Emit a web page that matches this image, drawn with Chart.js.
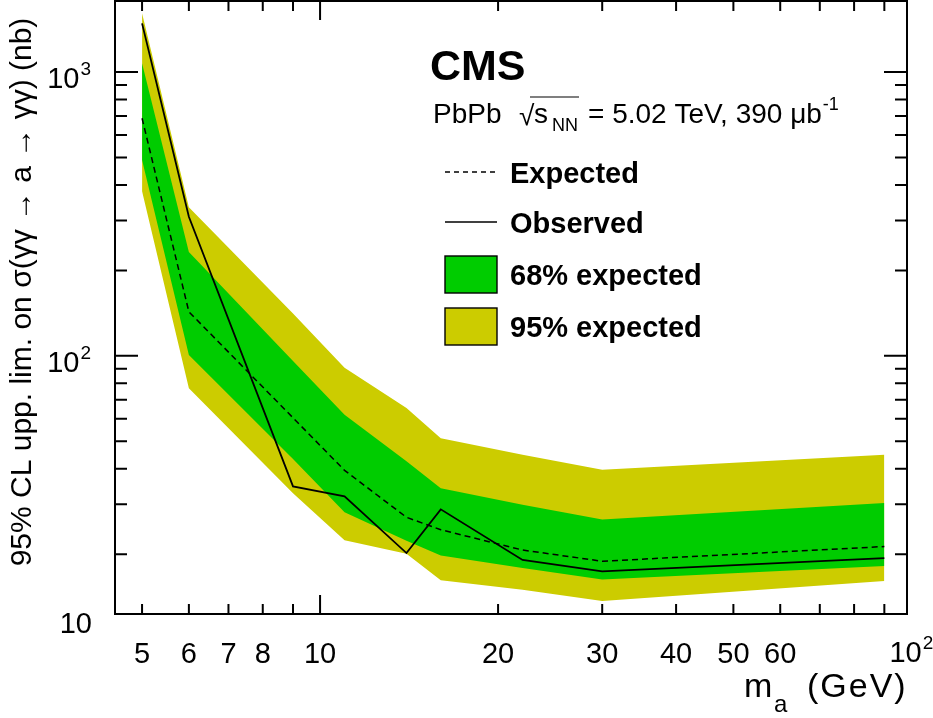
<!DOCTYPE html>
<html>
<head>
<meta charset="utf-8">
<script src="https://cdn.jsdelivr.net/npm/chart.js@4.4.1/dist/chart.umd.min.js"></script>
<style>
  html, body { margin: 0; padding: 0; background: #fff; }
</style>
</head>
<body>
<canvas id="limitChart" width="933" height="718"></canvas>
<script>
// mass points (GeV) and limits (nb)
const masses = [5, 6, 9, 11, 14, 16, 22, 30, 90];
const observed = [1484, 309, 34.7, 32.0, 20.2, 28.8, 19.1, 17.4, 19.4];
const expected = [687, 143, 60.5, 39.5, 27.0, 24.4, 20.7, 18.9, 21.3];
const band68Up = [1073, 232, 96, 62.0, 42.5, 34.2, 29.9, 26.5, 30.3];
const band68Down = [490, 100.8, 43.3, 28.1, 22.3, 19.8, 17.9, 16.3, 18.2];
const band95Up = [1611, 334, 141, 90.8, 65.5, 51.3, 44.8, 39.7, 44.8];
const band95Down = [380, 76.9, 32.8, 22.4, 20.1, 16.2, 15.0, 13.7, 16.1];

// axis ticks
const xTicks = [5, 6, 7, 8, 9, 10, 20, 30, 40, 50, 60, 70, 80, 90];
const xMajor = [10];
const xTickLabels = { 5: '5', 6: '6', 7: '7', 8: '8', 10: '10', 20: '20', 30: '30', 40: '40', 50: '50', 60: '60' };
const yTicks = [20, 30, 40, 50, 60, 70, 80, 90, 100, 200, 300, 400, 500, 600, 700, 800, 900, 1000];
const yMajor = [100, 1000];
const yPowers = [[100, '2'], [1000, '3']];

const xMin = 4.5, xMax = 98.3;
const yMin = 12.32, yMax = 1779;

const FONT = "'Liberation Sans', Arial, Helvetica, sans-serif";
const pts = (ys) => masses.map((m, i) => ({ x: m, y: ys[i] }));

// "10" with a raised exponent, right edge or centre anchored
function drawPower(c, exp, x, base, align) {
  c.font = '29px ' + FONT;
  const w1 = c.measureText('10').width;
  c.font = '19px ' + FONT;
  const w2 = c.measureText(exp).width;
  const left = align === 'right' ? x - w1 - w2 - 1 : x - (w1 + w2 + 1) / 2;
  c.font = '29px ' + FONT;
  c.fillText('10', left, base);
  c.font = '19px ' + FONT;
  c.fillText(exp, left + w1 + 1, base - 13);
}

const rootStyle = {
  id: 'rootStyle',
  afterDraw(chart) {
    const c = chart.ctx;
    const a = chart.chartArea;
    const xs = chart.scales.x, ys = chart.scales.y;
    c.save();
    c.strokeStyle = '#000';
    c.lineWidth = 2;
    c.strokeRect(a.left, a.top, a.right - a.left, a.bottom - a.top);

    // inward ticks on all four sides
    c.beginPath();
    xTicks.forEach(v => {
      const px = xs.getPixelForValue(v);
      const len = xMajor.includes(v) ? 19 : 10;
      c.moveTo(px, a.bottom); c.lineTo(px, a.bottom - len);
      c.moveTo(px, a.top); c.lineTo(px, a.top + len);
    });
    yTicks.forEach(v => {
      const py = ys.getPixelForValue(v);
      const len = yMajor.includes(v) ? 23 : 12;
      c.moveTo(a.left, py); c.lineTo(a.left + len, py);
      c.moveTo(a.right, py); c.lineTo(a.right - len, py);
    });
    c.stroke();

    c.fillStyle = '#000';
    c.textAlign = 'left';
    c.textBaseline = 'alphabetic';

    // y tick labels
    yPowers.forEach(([v, e]) => drawPower(c, e, 91, ys.getPixelForValue(v) + 16, 'right'));
    c.font = '29px ' + FONT;
    c.textAlign = 'right';
    c.fillText('10', 92, a.bottom + 19);
    c.textAlign = 'left';
    // x label at 10^2
    drawPower(c, '2', xs.getPixelForValue(100), 662, 'center');

    // x title with subscript
    c.font = '34px ' + FONT;
    c.fillText('m', 744, 697);
    c.font = '24px ' + FONT;
    c.fillText('a', 774, 712);
    c.font = '34px ' + FONT;
    c.letterSpacing = '2px';
    c.fillText('(GeV)', 807, 697);
    c.letterSpacing = '0px';

    // y title
    c.save();
    c.translate(31, 292);
    c.rotate(-Math.PI / 2);
    c.font = '30px ' + FONT;
    c.textAlign = 'center';
    c.fillText('95% CL upp. lim. on σ(γγ → a → γγ) (nb)', 0, 0);
    c.restore();

    // CMS label
    c.font = 'bold 43px ' + FONT;
    c.fillText('CMS', 430, 80);

    // collision system line
    c.font = '28px ' + FONT;
    c.fillText('PbPb', 433, 123);
    c.fillText('√', 519, 125);
    c.fillText('s', 534, 123);
    c.font = '18px ' + FONT;
    c.fillText('NN', 552, 131);
    c.beginPath();
    c.lineWidth = 1.2;
    c.moveTo(530, 97); c.lineTo(579, 97);
    c.stroke();
    c.font = '28px ' + FONT;
    const main = '= 5.02 TeV, 390 μb';
    c.fillText(main, 588, 123);
    const mw = c.measureText(main).width;
    c.font = '18px ' + FONT;
    c.fillText('-1', 588 + mw + 1, 110);

    // legend
    c.lineWidth = 1.4;
    c.beginPath();
    c.setLineDash([5, 4]);
    c.moveTo(445, 172); c.lineTo(497, 172);
    c.stroke();
    c.setLineDash([]);
    c.beginPath();
    c.moveTo(445, 222); c.lineTo(497, 222);
    c.stroke();
    c.fillStyle = '#00cc00';
    c.fillRect(445, 256, 52, 37);
    c.strokeRect(445, 256, 52, 37);
    c.fillStyle = '#cccc00';
    c.fillRect(445, 308, 52, 37);
    c.strokeRect(445, 308, 52, 37);
    c.fillStyle = '#000';
    c.font = 'bold 29px ' + FONT;
    c.fillText('Expected', 510, 183);
    c.fillText('Observed', 510, 233);
    c.fillText('68% expected', 510, 285);
    c.fillText('95% expected', 510, 337);
    c.restore();
  }
};

const ctx = document.getElementById('limitChart').getContext('2d');
const limitChart = new Chart(ctx, {
  type: 'line',
  data: {
    datasets: [
      { label: 'Observed', data: pts(observed), borderColor: '#000', borderWidth: 1.8, pointRadius: 0, fill: false, order: 0 },
      { label: 'Expected', data: pts(expected), borderColor: '#000', borderWidth: 1.5, borderDash: [6, 4], pointRadius: 0, fill: false, order: 0 },
      { label: '68% expected', data: pts(band68Up), borderColor: 'rgba(0,0,0,0)', backgroundColor: '#00cc00', pointRadius: 0, fill: '+1', order: 1 },
      { label: '68% low', data: pts(band68Down), borderColor: 'rgba(0,0,0,0)', pointRadius: 0, fill: false, order: 1 },
      { label: '95% expected', data: pts(band95Up), borderColor: 'rgba(0,0,0,0)', backgroundColor: '#cccc00', pointRadius: 0, fill: '+1', order: 2 },
      { label: '95% low', data: pts(band95Down), borderColor: 'rgba(0,0,0,0)', pointRadius: 0, fill: false, order: 2 }
    ]
  },
  options: {
    responsive: false,
    animation: false,
    devicePixelRatio: 1,
    layout: { padding: { top: 1, right: 26, left: 0, bottom: 0 } },
    plugins: { legend: { display: false }, tooltip: { enabled: false } },
    scales: {
      x: {
        type: 'logarithmic',
        min: xMin,
        max: xMax,
        grid: { display: false, drawTicks: false },
        border: { display: false },
        afterBuildTicks: (scale) => {
          scale.ticks = xTicks.map(v => ({ value: v }));
        },
        afterFit: (scale) => {
          scale.height = 104;
          scale.paddingLeft = 0;
          scale.paddingRight = 0;
        },
        ticks: {
          autoSkip: false,
          maxRotation: 0,
          padding: 24,
          color: '#000',
          font: { family: FONT, size: 29 },
          callback: (v) => xTickLabels[v] || ''
        }
      },
      y: {
        type: 'logarithmic',
        min: yMin,
        max: yMax,
        grid: { display: false, drawTicks: false },
        border: { display: false },
        afterBuildTicks: (scale) => {
          scale.ticks = yTicks.map(v => ({ value: v }));
        },
        afterFit: (scale) => {
          scale.width = 115;
          scale.paddingTop = 0;
          scale.paddingBottom = 0;
        },
        ticks: { display: false }
      }
    }
  },
  plugins: [rootStyle]
});
</script>
</body>
</html>
